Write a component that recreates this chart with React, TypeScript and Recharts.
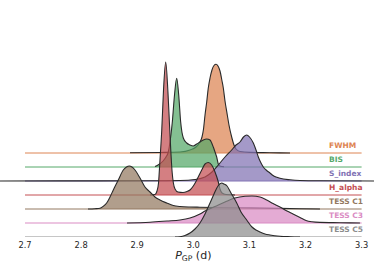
import React from 'react';
import { ComposedChart, Area, XAxis, YAxis, LabelList } from 'recharts';

// Row names and colours (top to bottom)
const seriesNames = ['FWHM', 'BIS', 'S_index', 'H_alpha', 'TESS C1', 'TESS C3', 'TESS C5'];
const seriesColors = ['#dd8452', '#55a868', '#8172b3', '#c44e52', '#937860', '#da8bc3', '#8c8c8c'];

// Posterior densities of P_GP (relative units) per indicator
const fwhmP = [2.8872, 2.9406, 2.9763, 2.9941, 3.0048, 3.0119, 3.0155, 3.0182, 3.0209, 3.0239, 3.0267, 3.0298, 3.0333, 3.0369, 3.0405, 3.0440, 3.0476, 3.0512, 3.0535, 3.0565, 3.0606, 3.0636, 3.0684, 3.0725, 3.0761, 3.0832, 3.1011, 3.1367, 3.1724];
const fwhmD = [0.2, 0.5, 1, 3, 6, 11, 16, 24, 38, 51, 65, 75, 83, 87.5, 88.7, 87, 82, 72, 65, 52, 38, 28, 16, 8, 4, 1.5, 0.6, 0.3, 0];

const bisP = [2.9317, 2.9371, 2.9460, 2.9513, 2.9554, 2.9585, 2.9626, 2.9665, 2.9704, 2.9740, 2.9775, 2.9822, 2.9882, 2.9941, 3.0000, 3.0061, 3.0119, 3.0178, 3.0239, 3.0298, 3.0328, 3.0356, 3.0387, 3.0417, 3.0446, 3.0476, 3.0547];
const bisD = [0.5, 2, 6, 10, 15, 25, 45, 72, 88.7, 72, 45, 29, 24, 22, 21, 23, 25, 27, 28, 27, 24, 20, 15, 10, 3, 1, 0.2];

const sindexP = [2.6554, 2.7624, 2.9228, 2.9763, 3.0030, 3.0209, 3.0333, 3.0446, 3.0565, 3.0684, 3.0761, 3.0832, 3.0895, 3.0952, 3.1002, 3.1070, 3.1118, 3.1159, 3.1207, 3.1248, 3.1308, 3.1367, 3.1421, 3.1474, 3.1545, 3.1724, 3.1902, 3.2258, 3.3221];
const sindexD = [0, 0.1, 0.2, 0.5, 1.5, 4, 9, 16, 24, 31, 36, 39, 44, 46, 44, 38, 31, 24, 18, 14, 10.5, 8, 5.5, 4, 2.7, 1.2, 0.5, 0.2, 0];

const halphaP = [2.9228, 2.9317, 2.9353, 2.9380, 2.9406, 2.9437, 2.9469, 2.9508, 2.9548, 2.9578, 2.9601, 2.9624, 2.9645, 2.9674, 2.9727, 2.9816, 2.9888, 2.9941, 3.0000, 3.0061, 3.0150, 3.0209, 3.0267, 3.0328, 3.0387, 3.0446, 3.0476, 3.0512, 3.0583, 3.0743];
const halphaD = [0, 0.5, 4, 12, 35, 64, 105, 133, 103, 68, 42, 22, 12, 6, 3, 2.5, 3.5, 5, 9, 15, 25, 31, 32.5, 30, 23, 13, 6, 2, 0.5, 0];

const tessC1P = [2.8123, 2.8248, 2.8337, 2.8390, 2.8456, 2.8515, 2.8574, 2.8663, 2.8752, 2.8809, 2.8859, 2.8907, 2.8961, 2.9050, 2.9139, 2.9228, 2.9317, 2.9406, 2.9526, 2.9643, 2.9763, 2.9941, 3.0119, 3.0476, 3.1011, 3.1545, 3.1902, 3.2258];
const tessC1D = [0, 0.3, 0.8, 2.5, 6, 12, 19, 29, 39, 42, 43, 42, 39, 31, 22, 17, 12, 9, 6, 3.5, 2.5, 2, 1.8, 1.5, 1.1, 0.6, 0.2, 0];

const tessC3P = [2.8818, 2.9228, 2.9531, 2.9763, 2.9941, 3.0119, 3.0209, 3.0387, 3.0565, 3.0743, 3.0922, 3.1046, 3.1189, 3.1308, 3.1421, 3.1545, 3.1670, 3.1777, 3.1902, 3.2009, 3.2116, 3.2258, 3.2615, 3.2971];
const tessC3D = [0, 0.8, 2, 3, 5, 9, 12, 16.5, 21, 25, 26.7, 27, 26, 23, 19.5, 16, 12, 9, 5.5, 2.5, 1.2, 0.6, 0.3, 0];

const tessC5P = [2.9674, 2.9763, 2.9852, 2.9941, 3.0030, 3.0119, 3.0209, 3.0298, 3.0369, 3.0440, 3.0506, 3.0547, 3.0601, 3.0672, 3.0774, 3.0850, 3.0952, 3.1046, 3.1118, 3.1189, 3.1278, 3.1367, 3.1545, 3.1724, 3.1902];
const tessC5D = [0, 0.3, 1.5, 4, 8, 14, 23, 34, 43, 51, 54, 53, 51, 44, 34, 25, 17, 10, 7, 5, 3, 2, 0.8, 0.3, 0];

const xTicks = [2.7, 2.8, 2.9, 3.0, 3.1, 3.2, 3.3];
const xTickLabels = ['2.7', '2.8', '2.9', '3.0', '3.1', '3.2', '3.3'];

const positions = [fwhmP, bisP, sindexP, halphaP, tessC1P, tessC3P, tessC5P];
const densities = [fwhmD, bisD, sindexD, halphaD, tessC1D, tessC3D, tessC5D];

const W = 374;
const H = 262;
const X_DOMAIN: [number, number] = [2.655437, 3.322103];
const Y_TOP = 237;
const ROW_GAP = 14;
const LABEL_X = 3.242;
const FONT = '"DejaVu Sans", Verdana, sans-serif';

const rows = seriesNames.map((name, i) => {
  const base = (seriesNames.length - 1 - i) * ROW_GAP;
  return {
    name,
    color: seriesColors[i],
    base,
    curve: positions[i].map((p, j) => ({ x: p, y: base + densities[i][j] })),
    line: [
      { x: xTicks[0], y: base, name: '' },
      { x: LABEL_X, y: base, name },
      { x: xTicks[xTicks.length - 1], y: base, name: '' },
    ],
  };
});

const makeRowLabel = (color: string) => (props: any) => {
  const { x, y, value } = props;
  if (!value) return null;
  return (
    <text
      x={x}
      y={y - 5.5}
      textAnchor="start"
      fill={color}
      fontFamily={FONT}
      fontWeight="bold"
      fontSize={7.5}
    >
      {value}
    </text>
  );
};

const AxisTitle = (props: any) => {
  const vb = props.viewBox || {};
  const cx = vb.x + (vb.width * (3.0 - X_DOMAIN[0])) / (X_DOMAIN[1] - X_DOMAIN[0]);
  return (
    <text x={cx} y={vb.y + 21.7} textAnchor="middle" fill="#262626" fontFamily={FONT} fontSize={11}>
      <tspan fontStyle="italic">P</tspan>
      <tspan fontSize={7.7} dy={2.5}>GP</tspan>
      <tspan dy={-2.5}> (d)</tspan>
    </text>
  );
};

export default function App() {
  return (
    <div style={{ position: 'absolute', left: 0, top: 0, width: W, height: H, background: '#fff' }}>
      <ComposedChart width={W} height={H} margin={{ top: 0, right: 0, bottom: 0, left: 0 }}>
        <XAxis
          dataKey="x"
          type="number"
          domain={X_DOMAIN}
          allowDataOverflow
          ticks={xTicks}
          tickFormatter={(v: number) => xTickLabels[xTicks.indexOf(v)] ?? String(v)}
          axisLine={false}
          tickLine={false}
          tickSize={4}
          tickMargin={1}
          height={25}
          tick={{ fill: '#262626', fontSize: 8.3, fontFamily: FONT }}
          interval={0}
          label={{ content: AxisTitle }}
        />
        <YAxis type="number" domain={[0, Y_TOP]} allowDataOverflow hide width={0} />
        {rows.flatMap((r) => [
          <Area
            key={r.name + '-line'}
            data={r.line}
            dataKey="y"
            baseValue={r.base}
            type="linear"
            fill="none"
            stroke={r.color}
            strokeWidth={1}
            isAnimationActive={false}
            dot={false}
            activeDot={false}
          >
            <LabelList dataKey="name" content={makeRowLabel(r.color)} />
          </Area>,
          <Area
            key={r.name + '-kde'}
            data={r.curve}
            dataKey="y"
            baseValue={r.base}
            type="monotone"
            fill={r.color}
            fillOpacity={0.72}
            stroke="#2a2a2a"
            strokeWidth={1.1}
            isAnimationActive={false}
            dot={false}
            activeDot={false}
          />,
        ])}
      </ComposedChart>
    </div>
  );
}
